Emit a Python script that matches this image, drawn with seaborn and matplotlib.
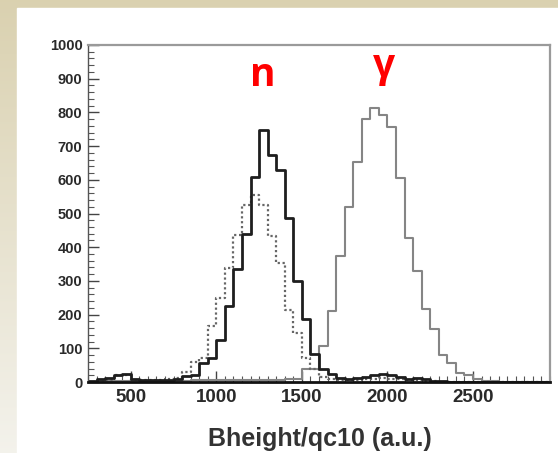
import numpy as np
import pandas as pd
import matplotlib
matplotlib.use("Agg")
import matplotlib.pyplot as plt
from matplotlib.patches import Rectangle
from matplotlib.ticker import MultipleLocator
import seaborn as sns

# ---- data (counts per 50-unit bin, lower edges 250 ... 2900) ----
bin_width = 50
bin_lo = np.arange(250, 2901, bin_width)

n_solid = [2, 10, 12, 22, 24, 8, 6, 5, 5, 6, 8, 18, 20, 55, 70, 125, 226, 334, 438,
           609, 749, 675, 630, 487, 300, 186, 83, 38, 24, 12, 10, 12, 16, 22, 24, 20,
           15, 8, 12, 10, 4, 2, 1, 0, 0, 0, 0, 0, 0, 0, 0, 0, 0, 0]
n_dotted = [0, 4, 6, 20, 22, 6, 5, 5, 6, 8, 12, 30, 60, 72, 165, 250, 337, 437, 525,
            556, 524, 432, 352, 213, 146, 70, 40, 15, 8, 6, 5, 6, 8, 10, 12, 10,
            8, 6, 5, 4, 2, 1, 0, 0, 0, 0, 0, 0, 0, 0, 0, 0, 0, 0]
gamma = [0, 2, 3, 3, 3, 3, 3, 3, 3, 3, 4, 4, 5, 5, 5, 5, 5, 5, 5, 5, 6, 6, 6, 8, 10,
         38, 38, 107, 211, 374, 520, 652, 780, 813, 793, 758, 606, 428, 329, 216,
         157, 80, 55, 28, 20, 8, 3, 2, 1, 1, 0, 0, 0, 0]

x_ticks = [500, 1000, 1500, 2000, 2500]
y_ticks = [0, 100, 200, 300, 400, 500, 600, 700, 800, 900, 1000]
x_label = "Bheight/qc10 (a.u.)"
peak_labels = ["n", "γ"]

centers = bin_lo + bin_width / 2
df = pd.DataFrame({"x": centers, "n_solid": n_solid, "n_dotted": n_dotted, "gamma": gamma})
x_range = (float(bin_lo[0]), float(bin_lo[-1] + bin_width))

sns.set_style("ticks")
plt.rcParams["font.family"] = ["Liberation Sans", "DejaVu Sans"]

W, H = 558, 453
fig = plt.figure(figsize=(W / 100, H / 100), dpi=100)

# background: beige slide with gradient, white panel
bg = fig.add_axes([0, 0, 1, 1], zorder=-10)
bg.set_axis_off()
top_c = np.array([0.855, 0.820, 0.690])
bot_c = np.array([0.955, 0.950, 0.925])
t = np.linspace(0, 1, 200)[:, None]
grad = (top_c * (1 - t) + bot_c * t)[:, None, :].repeat(2, axis=1)
bg.imshow(grad, aspect="auto", extent=[0, 1, 0, 1], origin="upper")
bg.add_patch(Rectangle((17 / W, 0), 1, 1 - 8 / H, color="white", transform=bg.transAxes))
bg.set_xlim(0, 1)
bg.set_ylim(0, 1)

ax = fig.add_axes([88 / W, 1 - 382 / H, (550 - 88) / W, (382 - 45) / H])
ax.set_facecolor("white")

common = dict(data=df, x="x", binwidth=bin_width, binrange=x_range,
              element="step", fill=False, ax=ax)
sns.histplot(weights="gamma", color="#858585", linewidth=1.5, **common)
sns.histplot(weights="n_dotted", color="#666666", linewidth=1.6,
             linestyle=(0, (1, 1.2)), **common)
sns.histplot(weights="n_solid", color="#1e1e1e", linewidth=2.0, **common)

ax.set_xlim(250, 2950)
ax.set_ylim(0, 1000)
ax.set_xticks(x_ticks)
ax.set_yticks(y_ticks)
ax.set_xticklabels([str(v) for v in x_ticks], fontsize=13.5, fontweight="bold", color="#2a2a2a")
ax.set_yticklabels([str(v) for v in y_ticks], fontsize=10.5, fontweight="bold", color="#2a2a2a")
ax.xaxis.set_minor_locator(MultipleLocator(50))
ax.yaxis.set_minor_locator(MultipleLocator(20))
ax.tick_params(axis="both", which="major", direction="in", length=8, width=1, color="#444444")
ax.tick_params(axis="both", which="minor", direction="in", length=4, width=0.8, color="#555555")
ax.tick_params(axis="x", which="major", pad=5)
ax.tick_params(axis="y", which="major", pad=4)
ax.set_xlabel("")
ax.set_ylabel("")
for side in ["top", "right"]:
    ax.spines[side].set_visible(True)
    ax.spines[side].set_color("#9a9a9a")
    ax.spines[side].set_linewidth(1.6)
ax.spines["left"].set_color("#555555")
ax.spines["left"].set_linewidth(1.0)
ax.spines["bottom"].set_color("#111111")
ax.spines["bottom"].set_linewidth(2.0)
ax.grid(False)

fig.text(320 / W, 1 - 439 / H, x_label, ha="center", va="center", fontsize=18,
         fontweight="bold", color="#333333")
fig.text(263 / W, 1 - 75 / H, peak_labels[0], ha="center", va="center", fontsize=28,
         fontweight="bold", color="#ff0000", family=["Open Sans", "DejaVu Sans"])
fig.text(384 / W, 1 - 66 / H, peak_labels[1], ha="center", va="center", fontsize=28,
         fontweight="bold", color="#ff0000", family=["Open Sans", "DejaVu Sans"])

fig.savefig("out.png", dpi=100)
